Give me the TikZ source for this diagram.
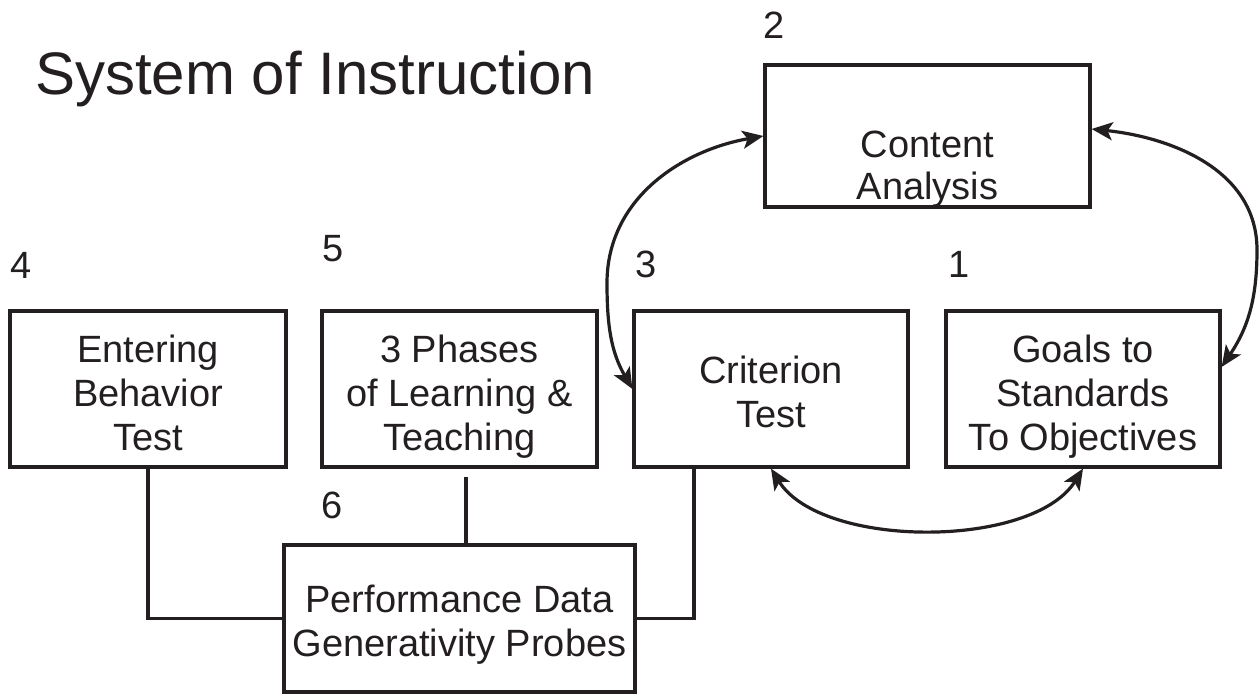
\documentclass[tikz,border=0pt]{standalone}
\usepackage{fontspec}
\setmainfont{Liberation Sans}
\usetikzlibrary{arrows.meta,calc}
\definecolor{ink}{RGB}{35,31,32}
\begin{document}
\begin{tikzpicture}[x=1pt,y=1pt,
  box/.style={draw=ink,line width=3.2pt,inner sep=0pt},
  txt/.style={inner sep=0pt,align=center,text depth=0pt,font=\fontsize{38}{44}\selectfont,text=ink},
  num/.style={anchor=base west,inner sep=0pt,font=\fontsize{38}{44}\selectfont,text=ink},
  conn/.style={draw=ink,line width=3.2pt},
  arr/.style={conn,{Stealth[length=21pt,width=18pt,inset=5pt]}-{Stealth[length=21pt,width=18pt,inset=5pt]}}]
\useasboundingbox (0,0) rectangle (1259,694);
\node[anchor=base west,inner sep=0pt,font=\fontsize{60}{72}\selectfont,text=ink] (title) at (35,599) {System of Instruction};
% boxes
\node[box,minimum width=325pt,minimum height=142pt] (cont) at (927.5,558) {};
\node[box,minimum width=276pt,minimum height=156pt] (ent) at (148,305) {};
\node[box,minimum width=275pt,minimum height=156pt] (ph) at (459.5,305) {};
\node[box,minimum width=274pt,minimum height=156pt] (crit) at (771,305) {};
\node[box,minimum width=274pt,minimum height=156pt] (goal) at (1083,305) {};
\node[box,minimum width=351pt,minimum height=147pt] (perf) at (459.5,75.5) {};
% box texts
\node[txt,font=\fontsize{38}{42}\selectfont] (contT) at ([yshift=-29pt]cont.center) {Content\\Analysis};
\node[txt] (entT) at ([yshift=-4pt]ent.center) {Entering\\Behavior\\Test};
\node[txt] (phT) at ([yshift=-4pt]ph.center) {3 Phases\\of Learning \&\\Teaching};
\node[txt] (critT) at ([yshift=-2.5pt]crit.center) {Criterion\\Test};
\node[txt] (goalT) at ([yshift=-4pt]goal.center) {Goals to\\Standards\\To Objectives};
\node[txt] (perfT) at ([yshift=-2pt]perf.center) {Performance Data\\Generativity Probes};
% numbers
\node[num] (n2) at (763,655) {2};
\node[num] (n4) at (10,415) {4};
\node[num] (n5) at (322,432) {5};
\node[num] (n3) at (635,416) {3};
\node[num] (n1) at (948,416) {1};
\node[num] (n6) at (321,175) {6};
% plain connectors
\draw[conn] (ent.south) |- (perf.west);
\draw[conn] ([xshift=6.5pt,yshift=-8pt]ph.south) -- ([xshift=6.5pt]perf.north);
\draw[conn] ([xshift=-77pt]crit.south) |- (perf.east);
% curved double arrows
\coordinate (ml) at (607,411);
\coordinate (mr) at (1257,444);
\draw[arr] (crit.west) to[out=120,in=-90] (ml) to[out=90,in=190] (cont.west);
\draw[arr] ([yshift=22pt]goal.east) to[out=56,in=-90] (mr) to[out=90,in=-6] ([yshift=7pt]cont.east);
\draw[arr] (crit.south) to[out=-58,in=-122,looseness=0.78] (goal.south);
\end{tikzpicture}
\end{document}
